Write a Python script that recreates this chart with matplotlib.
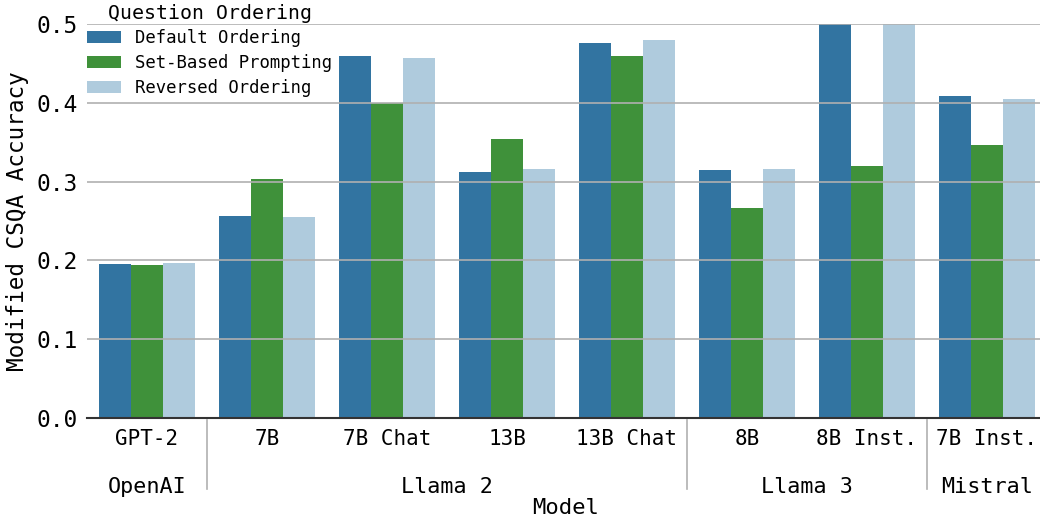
import matplotlib.pyplot as plt
import numpy as np

plt.rcParams['font.family'] = ['DejaVu Sans Mono']

# Data
models = ["GPT-2", "7B", "7B Chat", "13B", "13B Chat", "8B", "8B Inst.", "7B Inst."]
families = ["OpenAI", "Llama 2", "Llama 3", "Mistral"]
family_sizes = [1, 4, 2, 1]
series_names = ["Default Ordering", "Set-Based Prompting", "Reversed Ordering"]
default_ordering = [0.195, 0.256, 0.459, 0.312, 0.476, 0.315, 0.51, 0.409]
set_based = [0.194, 0.303, 0.400, 0.354, 0.459, 0.266, 0.320, 0.346]
reversed_ordering = [0.197, 0.255, 0.457, 0.316, 0.480, 0.316, 0.51, 0.405]
colors = ["#3274a1", "#3f913a", "#afcbdd"]

W, H = 1040, 523
fig = plt.figure(figsize=(W / 100, H / 100), dpi=100)
ax = fig.add_axes([87 / W, (H - 418) / H, (1047 - 87) / W, 394 / H])

x = np.arange(len(models))
bw = 0.8 / 3
for i, (vals, name) in enumerate(zip([default_ordering, set_based, reversed_ordering], series_names)):
    ax.bar(x + (i - 1) * bw, vals, width=bw, color=colors[i], label=name, zorder=1)

ax.set_xlim(-0.5, 7.5)
ax.set_ylim(0, 0.5)
ax.set_yticks([0.0, 0.1, 0.2, 0.3, 0.4, 0.5])
ax.set_yticklabels(["0.0", "0.1", "0.2", "0.3", "0.4", "0.5"], fontsize=16.5)
ax.set_xticks(x)
ax.set_xticklabels(models, fontsize=15)
ax.tick_params(axis='both', length=0)
ax.tick_params(axis='x', pad=8)
ax.tick_params(axis='y', pad=7)
ax.yaxis.grid(True, color="#b0b0b0", linewidth=1.2, zorder=3)
ax.set_axisbelow(False)
for s in ["top", "right", "left"]:
    ax.spines[s].set_visible(False)
ax.spines["bottom"].set_color("#333333")
ax.spines["bottom"].set_linewidth(1.5)
ax.spines["bottom"].set_zorder(4)

fig.text(18 / W, 1 - 221 / H, "Modified CSQA Accuracy", rotation=90,
         ha="center", va="center", fontsize=16.3)

# family labels and separators
start = 0
trans = ax.get_xaxis_transform()
for fam, n in zip(families, family_sizes):
    center = start + (n - 1) / 2
    ax.text(center, -0.175, fam, transform=trans, ha="center", va="center", fontsize=15.7)
    if start > 0:
        ax.plot([start - 0.5, start - 0.5], [-0.005, -0.18], transform=trans,
                color="#b0b0b0", linewidth=1.2, clip_on=False)
    start += n

fig.text(566 / W, 1 - 508 / H, "Model", ha="center", va="center", fontsize=16)

leg = ax.legend(title="Question Ordering", loc="upper left", bbox_to_anchor=(0.0, 1.052),
                frameon=False, fontsize=12.4, title_fontsize=14.3, handlelength=2.0,
                handleheight=0.7, labelspacing=0.4, borderaxespad=0.0, borderpad=0.0)

fig.savefig("out.png", dpi=100)
